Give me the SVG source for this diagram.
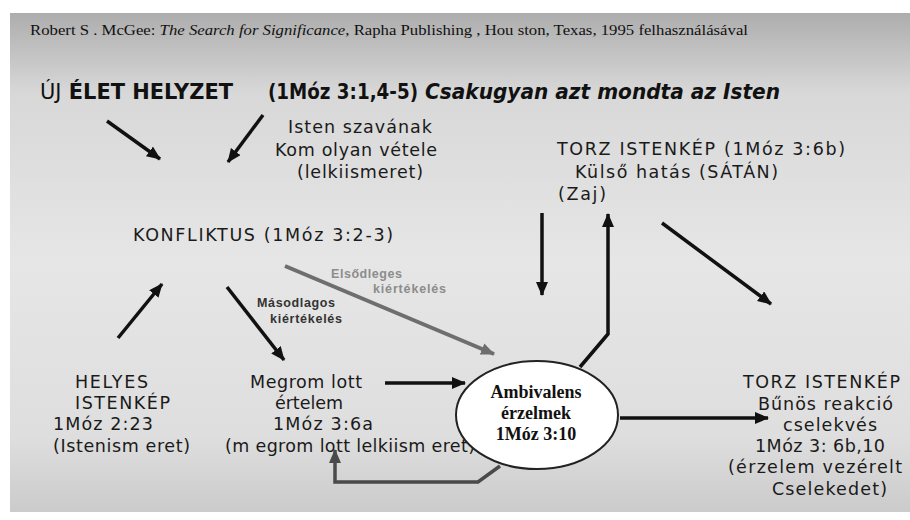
<svg xmlns="http://www.w3.org/2000/svg" width="910" height="520" viewBox="0 0 910 520">
  <defs>
    <linearGradient id="bg" x1="0" y1="0" x2="0" y2="1">
      <stop offset="0" stop-color="#adadad"/>
      <stop offset="0.16" stop-color="#d8d8d8"/>
      <stop offset="0.5" stop-color="#e6e6e6"/>
      <stop offset="0.85" stop-color="#dedede"/>
      <stop offset="1" stop-color="#cbcbcb"/>
    </linearGradient>
    <marker id="ah" markerUnits="userSpaceOnUse" markerWidth="16" markerHeight="14" refX="13" refY="6" orient="auto">
      <path d="M0,0 L14,6 L0,12 z" fill="#111"/>
    </marker>
    <marker id="ahg" markerUnits="userSpaceOnUse" markerWidth="16" markerHeight="14" refX="13" refY="6" orient="auto">
      <path d="M0,0 L14,6 L0,12 z" fill="#6e6e6e"/>
    </marker>
    <marker id="ahd" markerUnits="userSpaceOnUse" markerWidth="16" markerHeight="14" refX="13" refY="6" orient="auto">
      <path d="M0,0 L14,6 L0,12 z" fill="#4a4a4a"/>
    </marker>
  </defs>
  <style>
    .t { font-family: "DejaVu Sans", Verdana, sans-serif; font-size: 17.5px; fill: #1a1a1a; }
    .hd { font-family: "Liberation Serif", "Times New Roman", serif; font-size: 14px; fill: #111; }
    .ti { font-family: "DejaVu Sans", Verdana, sans-serif; font-size: 21px; font-weight: bold; fill: #111; }
    .lb { font-family: "Liberation Sans", Arial, sans-serif; font-size: 12.5px; font-weight: bold; }
    .el { font-family: "Liberation Serif", "Times New Roman", serif; font-size: 18px; font-weight: bold; fill: #111; }
    .c { fill: none; stroke: #111; stroke-width: 3.5; }
  </style>

  <rect x="0" y="0" width="910" height="520" fill="#ffffff"/>
  <rect x="10" y="13" width="900" height="499" fill="url(#bg)"/>

  <g id="source">
    <text class="hd" x="30" y="35" textLength="718" lengthAdjust="spacingAndGlyphs">Robert S . McGee: <tspan font-style="italic">The Search for Significance</tspan>, Rapha Publishing , Hou ston, Texas, 1995 felhasználásával</text>
  </g>

  <g id="title">
    <text class="ti" x="40" y="99" textLength="193" lengthAdjust="spacingAndGlyphs"><tspan font-weight="normal">ÚJ</tspan> ÉLET HELYZET</text>
    <text class="ti" x="268" y="99" textLength="150" lengthAdjust="spacingAndGlyphs">(1Móz 3:1,4-5)</text>
    <text class="ti" x="425" y="99" font-style="italic" textLength="355" lengthAdjust="spacingAndGlyphs">Csakugyan azt mondta az Isten</text>
  </g>

  <g id="isten-szava">
    <text class="t" x="288" y="133" textLength="144" lengthAdjust="spacing">Isten szavának</text>
    <text class="t" x="275" y="156" textLength="162" lengthAdjust="spacing">Kom olyan vétele</text>
    <text class="t" x="297" y="178" textLength="126" lengthAdjust="spacing">(lelkiismeret)</text>
  </g>

  <g id="konfliktus">
    <text class="t" x="133" y="241" textLength="260" lengthAdjust="spacing">KONFLIKTUS (1Móz 3:2-3)</text>
  </g>

  <g id="torz-istenkep-1">
    <text class="t" x="557" y="155" textLength="288" lengthAdjust="spacing">TORZ ISTENKÉP  (1Móz 3:6b)</text>
    <text class="t" x="575" y="178" textLength="203" lengthAdjust="spacing">Külső hatás (SÁTÁN)</text>
    <text class="t" x="558" y="200" textLength="48" lengthAdjust="spacing">(Zaj)</text>
  </g>

  <g id="helyes-istenkep">
    <text class="t" x="75" y="388" textLength="73" lengthAdjust="spacing">HELYES</text>
    <text class="t" x="75" y="409" textLength="95" lengthAdjust="spacing">ISTENKÉP</text>
    <text class="t" x="53" y="430" textLength="100" lengthAdjust="spacing">1Móz 2:23</text>
    <text class="t" x="53" y="452" textLength="137" lengthAdjust="spacing">(Istenism eret)</text>
  </g>

  <g id="megromlott-ertelem">
    <text class="t" x="250" y="388" textLength="112" lengthAdjust="spacing">Megrom lott</text>
    <text class="t" x="275" y="409" textLength="68" lengthAdjust="spacing">értelem</text>
    <text class="t" x="273" y="430" textLength="100" lengthAdjust="spacing">1Móz 3:6a</text>
    <text class="t" x="225" y="452" textLength="250" lengthAdjust="spacing">(m egrom lott lelkiism eret)</text>
  </g>

  <g id="ambivalens">
    <ellipse cx="537" cy="415" rx="81" ry="54" fill="#ffffff" stroke="#222" stroke-width="2"/>
    <text class="el" x="536" y="398" text-anchor="middle">Ambivalens</text>
    <text class="el" x="536" y="419" text-anchor="middle">érzelmek</text>
    <text class="el" x="536" y="440" text-anchor="middle">1Móz 3:10</text>
  </g>

  <g id="torz-istenkep-2">
    <text class="t" x="743" y="388" textLength="157" lengthAdjust="spacing">TORZ ISTENKÉP</text>
    <text class="t" x="758" y="410" textLength="135" lengthAdjust="spacing">Bűnös reakció</text>
    <text class="t" x="783" y="431" textLength="94" lengthAdjust="spacing">cselekvés</text>
    <text class="t" x="755" y="452" textLength="130" lengthAdjust="spacing">1Móz 3: 6b,10</text>
    <text class="t" x="728" y="473" textLength="174" lengthAdjust="spacing">(érzelem vezérelt</text>
    <text class="t" x="772" y="495" textLength="115" lengthAdjust="spacing">Cselekedet)</text>
  </g>

  <g id="connectors">
    <line class="c" x1="107" y1="121" x2="160" y2="159" marker-end="url(#ah)"/>
    <line class="c" x1="263" y1="115" x2="228" y2="162" marker-end="url(#ah)"/>
    <line class="c" x1="118" y1="338" x2="162" y2="284" marker-end="url(#ah)"/>
    <line class="c" x1="227" y1="287" x2="284" y2="360" marker-end="url(#ah)"/>
    <line x1="285" y1="266" x2="494" y2="354" stroke="#6e6e6e" stroke-width="4" marker-end="url(#ahg)"/>
    <line class="c" x1="385" y1="383" x2="465" y2="383" marker-end="url(#ah)"/>
    <line class="c" x1="542" y1="213" x2="542" y2="295" marker-end="url(#ah)"/>
    <polyline class="c" points="580,367 608,334 608,214" marker-end="url(#ah)"/>
    <line class="c" x1="662" y1="223" x2="771" y2="304" marker-end="url(#ah)"/>
    <line class="c" x1="620" y1="418" x2="768" y2="418" marker-end="url(#ah)"/>
    <polyline points="500,466 478,482 335,482 335,450" fill="none" stroke="#4a4a4a" stroke-width="3.5" marker-end="url(#ahd)"/>
    <text class="lb" x="331" y="278" fill="#8c8c8c" textLength="71" lengthAdjust="spacing">Elsődleges</text>
    <text class="lb" x="373" y="293" fill="#8c8c8c" textLength="73" lengthAdjust="spacing">kiértékelés</text>
    <text class="lb" x="257" y="307" fill="#333" textLength="78" lengthAdjust="spacing">Másodlagos</text>
    <text class="lb" x="270" y="323" fill="#333" textLength="72" lengthAdjust="spacing">kiértékelés</text>
  </g>
</svg>
